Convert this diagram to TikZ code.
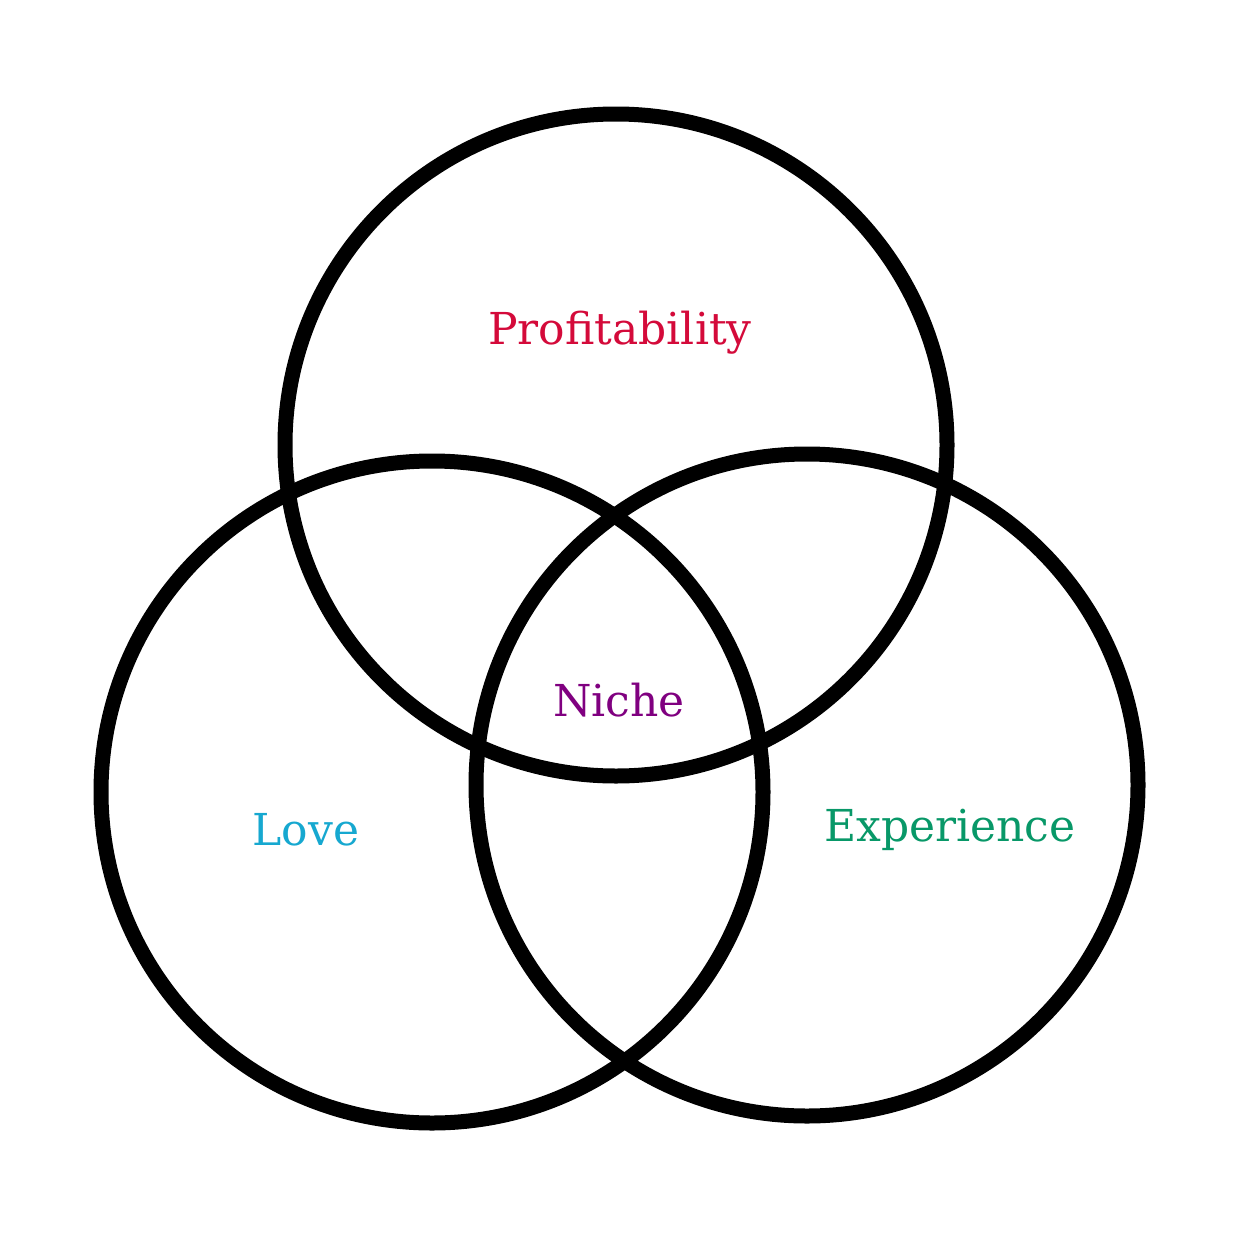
\documentclass[tikz,border=0pt]{standalone}
\usepackage{fontspec}
\setmainfont{DejaVu Serif}
\definecolor{profred}{RGB}{212,10,58}
\definecolor{nichepurple}{RGB}{128,0,128}
\definecolor{lovecyan}{RGB}{22,168,208}
\definecolor{expgreen}{RGB}{8,152,104}
\begin{document}
\begin{tikzpicture}[x=1pt,y=-1pt,
  ring/.style={draw=black,line width=15pt,circle,minimum size=662pt,inner sep=0pt},
  lbl/.style={font=\fontsize{44}{50}\selectfont,inner sep=0pt}]
\useasboundingbox[fill=white] (0,0) rectangle (1239,1239);
\node[ring] (top) at (616,445) {};
\node[ring] (left) at (432,792) {};
\node[ring] (right) at (807,785) {};
\node[lbl,text=profred] (p) at (620,333) {Profitability};
\node[lbl,text=nichepurple] (n) at (619,700) {Niche};
\node[lbl,text=lovecyan] (l) at (306,830) {Love};
\node[lbl,text=expgreen] (e) at (950,830) {Experience};
\end{tikzpicture}
\end{document}
